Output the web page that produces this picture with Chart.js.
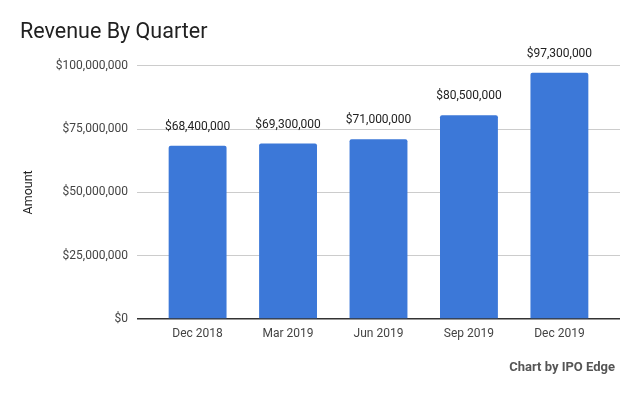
<!DOCTYPE html>
<html>
<head>
<meta charset="utf-8">
<script src="https://cdn.jsdelivr.net/npm/chart.js@4"></script>
<style>
  html, body { margin: 0; padding: 0; background: #fff; }
  #wrap { width: 640px; height: 396px; }
</style>
</head>
<body>
<div id="wrap"><canvas id="revChart" width="640" height="396"></canvas></div>
<script>
// =============== DATA ===============
const quarters = ["Dec 2018", "Mar 2019", "Jun 2019", "Sep 2019", "Dec 2019"];
const revenue = [68400000, 69300000, 71000000, 80500000, 97300000];
const yTicks = [0, 25000000, 50000000, 75000000, 100000000];
const footerText = "Chart by IPO Edge";

const money = (v) => "$" + v.toLocaleString("en-US");

// value labels above each bar + source note in the bottom right
const barLabels = {
  id: "barLabels",
  afterDatasetsDraw(chart) {
    const ctx = chart.ctx;
    const meta = chart.getDatasetMeta(0);
    ctx.save();
    ctx.font = "12px Roboto";
    ctx.fillStyle = "#222";
    ctx.textAlign = "center";
    ctx.textBaseline = "alphabetic";
    meta.data.forEach((bar, i) => {
      ctx.fillText(money(revenue[i]), bar.x, bar.y - 16);
    });

    ctx.font = "bold 13px Roboto";
    ctx.fillStyle = "#555";
    ctx.textAlign = "right";
    ctx.textBaseline = "middle";
    ctx.fillText(footerText, 615, 368);
    ctx.restore();
  },
};

const ctx = document.getElementById("revChart");

new Chart(ctx, {
  type: "bar",
  data: {
    datasets: [
      {
        label: "Amount",
        data: revenue.map((v, i) => ({ x: i, y: v })),
        backgroundColor: "#3c78d8",
        borderRadius: 2,
        borderSkipped: "bottom",
        barPercentage: 0.64,
        categoryPercentage: 1,
      },
    ],
  },
  options: {
    responsive: false,
    animation: false,
    layout: { padding: { left: 20, right: 20, top: 0, bottom: 35 } },
    plugins: {
      legend: { display: false },
      tooltip: { enabled: false },
      title: {
        display: true,
        text: "Revenue By Quarter",
        align: "start",
        color: "#212121",
        font: { family: "Roboto", size: 21.5, weight: "normal" },
        padding: { top: 20, bottom: 20 },
      },
    },
    scales: {
      x: {
        type: "linear",
        min: -0.67,
        max: 4.67,
        offset: false,
        grid: { display: false, drawTicks: false },
        border: { display: false },
        afterBuildTicks: (scale) => {
          scale.ticks = quarters.map((_, i) => ({ value: i }));
        },
        afterFit: (scale) => { scale.height = 42; },
        ticks: {
          padding: 8,
          color: "#444",
          font: { family: "Roboto", size: 12 },
          maxRotation: 0,
          autoSkip: false,
          callback: (v) => quarters[v] ?? "",
        },
      },
      y: {
        min: 0,
        max: 100000000,
        afterBuildTicks: (scale) => {
          scale.ticks = yTicks.map((v) => ({ value: v }));
        },
        afterFit: (scale) => { scale.width = 117; },
        border: { display: false },
        grid: {
          drawTicks: false,
          color: (c) => (c.tick && c.tick.value === 0 ? "#333" : "#ccc"),
          lineWidth: (c) => (c.tick && c.tick.value === 0 ? 1.5 : 1),
        },
        ticks: {
          padding: 9,
          color: "#444",
          font: { family: "Roboto", size: 12 },
          callback: (v) => money(v),
        },
        title: {
          display: true,
          text: "Amount",
          color: "#222",
          font: { family: "Roboto", size: 12.5 },
          padding: { top: 1, bottom: 0 },
        },
      },
    },
  },
  plugins: [barLabels],
});
</script>
</body>
</html>
